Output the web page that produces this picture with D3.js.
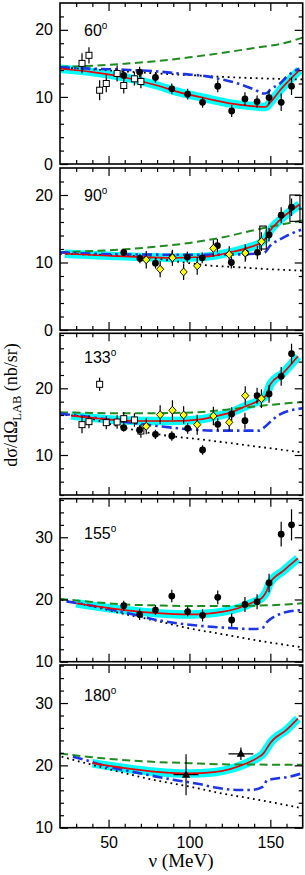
<!DOCTYPE html>
<html><head><meta charset="utf-8">
<script src="https://cdn.jsdelivr.net/npm/d3@7/dist/d3.min.js"></script>
<style>body{margin:0;background:#fff}svg{display:block}</style>
</head><body><svg id="c" width="305" height="875"></svg>
<script>
// ---------- axes / labels ----------
const xDomain = [20, 170];
const xTickLabels = [50, 100, 150];
const xMinorTicks = [30, 40, 60, 70, 80, 90, 110, 120, 130, 140, 160];
const angleLabels = ["60", "90", "133", "155", "180"];
const yDomains = [[0, 24], [0, 24], [4, 28.25], [10, 36.2], [10, 36.1]];
const yTickLabels = [[0, 10, 20], [0, 10, 20], [10, 20], [10, 20, 30], [10, 20, 30]];
const xAxisTitle = "ν (MeV)";

// ---------- Panel 1 : 60° ----------
const p1Squares = [[33.6,15.0,1.5],[37.9,16.2,1.2],[44.5,11.0,1.5],[48.6,12.0,1.3],[55.3,13.5,1.2],[59.4,11.7,1.2],[66.0,12.7,1.0],[70.0,12.3,1.0]];
const p1Circles = [[59.4,13.2,0.8],[69.2,13.7,0.8],[79.0,12.9,0.8],[89.1,11.2,0.8],[98.9,10.4,0.8],[108.1,9.2,0.8],[117.5,11.6,0.9],[126.1,7.9,0.9],[134.3,9.7,1.0],[141.8,9.3,0.9],[149.2,9.9,1.0],[156.7,9.2,1.3],[163.1,11.6,1.3]];
const p1Green  = [[20,14.5],[40,14.65],[60,14.95],[80,15.35],[100,15.9],[120,16.55],[140,17.3],[160,18.1],[170,18.85]];
const p1Blue   = [[20,14.4],[40,14.2],[60,14.05],[80,13.8],[97,13.4],[110,13.1],[120,12.6],[130,12.0],[140,11.1],[146,10.5],[148,10.6],[150,11.1],[156,12.0],[160,13.0],[168,14.2]];
const p1Dotted = [[20,14.4],[40,14.1],[60,13.8],[80,13.5],[100,13.25],[120,13.0],[140,12.8],[170,12.6]];
const p1Red    = [[20.5,14.2],[40,13.7],[60,12.9],[80,11.7],[95,10.6],[110,9.8],[126,9.0],[140,8.6],[147,8.5],[150,9.2],[156,11.0],[168,14.0]];

// ---------- Panel 2 : 90° ----------
const p2Circles = [[59.4,11.5,0.5],[69.4,10.6,0.7],[79.0,9.9,0.8],[89.3,10.8,0.9],[98.7,10.8,0.8],[107.9,10.7,0.8],[117.3,12.5,1.0],[125.9,10.0,0.9],[134.7,11.4,1.0],[142.0,11.5,1.0],[149.2,14.1,1.0],[156.7,17.0,1.2],[163.1,18.2,1.3]];
const p2Diamonds = [[73.3,10.4,1.3],[81.9,9.0,1.2],[89.5,10.7,1.2],[96.4,8.6,1.2],[104.8,9.5,1.3],[114.8,12.1,1.2],[124.6,11.2,1.2],[134.5,11.4,1.3],[144.5,13.1,1.4]];
const p2Boxes = [[143.5,147.5,12.0,15.4],[162.1,168.3,16.1,20.0]];
const p2Green  = [[20,11.5],[40,11.7],[60,11.95],[80,12.35],[100,12.9],[120,13.7],[140,14.8],[150,15.3],[170,16.2]];
const p2Blue   = [[20,11.5],[40,11.3],[60,11.2],[100,11.15],[130,11.2],[146,11.4],[150,12.5],[158,13.7],[169,14.85]];
const p2Dotted = [[20,11.3],[50,11.1],[70,10.9],[85,10.4],[100,9.9],[110,9.6],[130,9.3],[150,9.0],[170,8.8]];
const p2Red    = [[23,11.3],[50,11.0],[70,10.8],[90,10.7],[110,10.85],[125,11.5],[135,12.1],[145,13.1],[147.5,13.7],[149.5,14.6],[156,16.3],[168,18.6]];

// ---------- Panel 3 : 133° ----------
const p3Squares = [[33.6,14.55,1.3],[37.9,15.0,1.0],[44.5,20.6,1.0],[48.6,14.85,1.0],[55.3,14.95,1.0],[59.4,15.45,1.0],[66.0,15.25,1.0],[70.0,13.6,1.0]];
const p3Circles = [[59.4,14.1,0.6],[69.2,13.75,0.7],[79.0,13.1,0.7],[89.1,12.85,0.7],[98.9,14.0,0.8],[108.1,10.75,0.7],[117.5,14.6,0.9],[126.1,16.15,1.0],[134.3,15.15,1.2],[141.8,18.9,1.2],[149.2,19.15,1.3],[156.7,21.8,1.4],[163.1,25.2,1.5]];
const p3Diamonds = [[73.3,14.3,1.2],[81.9,16.05,1.4],[89.5,16.7,1.5],[96.4,16.0,1.3],[104.8,14.55,1.5],[114.8,15.85,1.4],[124.6,14.9,1.3],[134.5,18.9,1.4],[144.5,18.45,1.4]];
const p3Green  = [[20,16.4],[60,16.25],[90,16.3],[110,16.5],[125,16.85],[143,17.35],[170,17.95]];
const p3Blue   = [[20,16.2],[35,15.8],[50,15.3],[65,14.8],[80,14.35],[100,13.85],[115,13.65],[143,13.65],[146,14.1],[151,15.2],[156,16.1],[170,17.0]];
const p3Dotted = [[20,16.05],[37,15.6],[50,14.7],[66,13.75],[82,13.05],[110,12.25],[139,11.35],[169,10.4]];
const p3Red    = [[27,15.9],[49,15.35],[70,15.1],[90,15.1],[107,15.35],[115,15.75],[127,16.5],[135,17.35],[143.5,18.25],[147.5,19.0],[150,20.6],[158,22.3],[167,24.8]];

// ---------- Panel 4 : 155° ----------
const p4Circles = [[59.4,19.0,0.8],[69.2,17.6,0.9],[79.0,18.3,0.8],[89.1,20.55,1.0],[98.9,18.05,0.8],[108.1,17.45,1.0],[117.5,20.35,1.1],[126.1,16.7,1.1],[134.3,19.2,1.2],[141.8,19.65,1.2],[149.2,22.65,1.5],[156.7,30.5,2.0],[163.1,32.0,2.5]];
const p4Green  = [[20,20.1],[40,19.6],[60,19.2],[80,19.05],[100,18.95],[120,18.95],[140,19.0],[160,19.2],[170,19.4]];
const p4Blue   = [[24,19.7],[40,19.0],[60,17.9],[80,16.7],[98,16.0],[120,15.5],[140,15.25],[145,15.4],[148,16.4],[153,17.3],[160,18.0],[170,18.3]];
const p4Dotted = [[21,19.9],[40,18.9],[60,17.65],[80,16.55],[100,15.35],[120,14.45],[140,13.5],[170,12.3]];
const p4Red    = [[30,19.4],[45,18.8],[60,18.3],[80,17.8],[100,17.6],[110,17.7],[120,18.0],[130,18.6],[139,19.5],[145,20.3],[147.6,21.3],[149.6,22.6],[158,24.6],[167,26.6]];

// ---------- Panel 5 : 180° ----------
const p5Triangles = [[97.9,18.5,3.3,7.7],[131.8,21.85,1.0,7.7]];
const p5Green  = [[20,21.9],[50,21.05],[75,20.6],[100,20.35],[127,20.15],[170,20.1]];
const p5Blue   = [[28,21.4],[35,20.9],[51,19.7],[64,19.0],[90,17.7],[106,17.0],[115,16.5],[131,16.05],[138,16.05],[145.5,16.6],[148,17.6],[162,18.2],[170,18.75]];
const p5Dotted = [[21,21.4],[50,19.4],[80,17.55],[100,16.6],[120,15.5],[140,14.6],[170,13.1]];
const p5Red    = [[40,20.35],[60,19.55],[80,18.95],[100,18.7],[115,18.9],[125,19.4],[135,20.3],[142,21.2],[146,22.0],[148,22.8],[150,23.6],[160,25.7],[167,27.5]];

// ---------- table built from the arrays ----------
const panels = [
  {green:p1Green, blue:p1Blue, dotted:p1Dotted, red:p1Red, squares:p1Squares, circles:p1Circles, diamonds:[], boxes:[], triangles:[]},
  {green:p2Green, blue:p2Blue, dotted:p2Dotted, red:p2Red, squares:[], circles:p2Circles, diamonds:p2Diamonds, boxes:p2Boxes, triangles:[]},
  {green:p3Green, blue:p3Blue, dotted:p3Dotted, red:p3Red, squares:p3Squares, circles:p3Circles, diamonds:p3Diamonds, boxes:[], triangles:[]},
  {green:p4Green, blue:p4Blue, dotted:p4Dotted, red:p4Red, squares:[], circles:p4Circles, diamonds:[], boxes:[], triangles:[]},
  {green:p5Green, blue:p5Blue, dotted:p5Dotted, red:p5Red, squares:[], circles:[], diamonds:[], boxes:[], triangles:p5Triangles}
];

// ---------- layout ----------
const svg = d3.select("#c");
const X0 = 60, X1 = 302.7;
const tops = [3, 168, 333.3, 498.7, 665];
const bots = [164, 330, 495, 661.7, 827.7];
const labelY = [35.7, 200.7, 362.7, 539, 700.7];
const x = d3.scaleLinear().domain(xDomain).range([X0, X1]);
const sans = "'Liberation Sans', Arial, Helvetica, sans-serif";
const serif = "'Liberation Serif', 'Times New Roman', Times, serif";

panels.forEach((p, i) => {
  const y = d3.scaleLinear().domain(yDomains[i]).range([bots[i], tops[i]]);
  const g = svg.append("g");
  const cid = "clip" + i;
  svg.append("clipPath").attr("id", cid).append("rect")
    .attr("x", X0).attr("y", tops[i]).attr("width", X1 - X0).attr("height", bots[i] - tops[i]);
  const plot = g.append("g").attr("clip-path", `url(#${cid})`);
  const line = d3.line().x(d => x(d[0])).y(d => y(d[1])).curve(d3.curveMonotoneX);

  plot.append("path").datum(p.red).attr("d", line).attr("fill", "none")
    .attr("stroke", "#00ffff").attr("stroke-width", 8.5).attr("stroke-linejoin", "round");
  plot.append("path").datum(p.dotted).attr("d", line).attr("fill", "none")
    .attr("stroke", "#000").attr("stroke-width", 1.8).attr("stroke-dasharray", "1.8,3.8");
  plot.append("path").datum(p.green).attr("d", line).attr("fill", "none")
    .attr("stroke", "#1e8c1e").attr("stroke-width", 2).attr("stroke-dasharray", "8,4.5");
  plot.append("path").datum(p.blue).attr("d", line).attr("fill", "none")
    .attr("stroke", "#1c35e6").attr("stroke-width", 2.6).attr("stroke-dasharray", "10,4,2.5,4");
  plot.append("path").datum(p.red).attr("d", line).attr("fill", "none")
    .attr("stroke", "#f00000").attr("stroke-width", 1.7);

  // boxes
  plot.selectAll(".box").data(p.boxes).enter().append("rect")
    .attr("x", d => x(d[0])).attr("y", d => y(d[3]))
    .attr("width", d => x(d[1]) - x(d[0])).attr("height", d => y(d[2]) - y(d[3]))
    .attr("fill", "none").attr("stroke", "#000").attr("stroke-width", 1.1);

  // error bars
  const allPts = [].concat(p.squares, p.circles, p.diamonds, p.triangles);
  plot.selectAll(".eb").data(allPts).enter().append("line")
    .attr("x1", d => x(d[0])).attr("x2", d => x(d[0]))
    .attr("y1", d => y(d[1] - d[2])).attr("y2", d => y(d[1] + d[2]))
    .attr("stroke", "#000").attr("stroke-width", 1.2);
  plot.selectAll(".ebx").data(p.triangles).enter().append("line")
    .attr("x1", d => x(d[0] - d[3])).attr("x2", d => x(d[0] + d[3]))
    .attr("y1", d => y(d[1])).attr("y2", d => y(d[1]))
    .attr("stroke", "#000").attr("stroke-width", 1.2);

  plot.selectAll(".sq").data(p.squares).enter().append("rect")
    .attr("x", d => x(d[0]) - 3).attr("y", d => y(d[1]) - 3).attr("width", 6).attr("height", 6)
    .attr("fill", "#fff").attr("stroke", "#000").attr("stroke-width", 1);
  plot.selectAll(".ci").data(p.circles).enter().append("circle")
    .attr("cx", d => x(d[0])).attr("cy", d => y(d[1])).attr("r", 3.4).attr("fill", "#000");
  plot.selectAll(".di").data(p.diamonds).enter().append("path")
    .attr("transform", d => `translate(${x(d[0])},${y(d[1])})`)
    .attr("d", "M0,-4L3.6,0L0,4L-3.6,0Z")
    .attr("fill", "#ffff00").attr("stroke", "#000").attr("stroke-width", 0.9);
  plot.selectAll(".tr").data(p.triangles).enter().append("path")
    .attr("transform", d => `translate(${x(d[0])},${y(d[1])})`)
    .attr("d", "M0,-4.5L4.2,3L-4.2,3Z").attr("fill", "#000");

  // ticks
  const tk = (sel) => sel.call(s => s.select(".domain").remove())
    .call(s => s.selectAll("line").attr("stroke", "#000").attr("stroke-width", 1.2));
  g.append("g").attr("transform", `translate(0,${bots[i]})`)
    .call(d3.axisBottom(x).tickValues(xMinorTicks).tickSize(-4).tickFormat("")).call(tk);
  g.append("g").attr("transform", `translate(0,${tops[i]})`)
    .call(d3.axisTop(x).tickValues(xMinorTicks).tickSize(-4).tickFormat("")).call(tk);
  g.append("g").attr("transform", `translate(0,${tops[i]})`)
    .call(d3.axisTop(x).tickValues(xTickLabels).tickSize(-8).tickFormat("")).call(tk);
  const bAx = g.append("g").attr("transform", `translate(0,${bots[i]})`)
    .call(d3.axisBottom(x).tickValues(xTickLabels).tickSize(-8).tickPadding(9)
      .tickFormat(i === panels.length - 1 ? d3.format("d") : "")).call(tk);
  bAx.selectAll("text").attr("font-family", sans).attr("font-size", 16).attr("fill", "#000");

  const yd = yDomains[i];
  const yMinor = d3.range(Math.ceil(yd[0] / 2) * 2, yd[1], 2).filter(v => v % 10 !== 0);
  const yMajor = d3.range(Math.ceil(yd[0] / 10) * 10, yd[1], 10);
  g.append("g").attr("transform", `translate(${X0},0)`)
    .call(d3.axisLeft(y).tickValues(yMinor).tickSize(-4).tickFormat("")).call(tk);
  g.append("g").attr("transform", `translate(${X1},0)`)
    .call(d3.axisRight(y).tickValues(yMinor).tickSize(-4).tickFormat("")).call(tk);
  g.append("g").attr("transform", `translate(${X1},0)`)
    .call(d3.axisRight(y).tickValues(yMajor).tickSize(-8).tickFormat("")).call(tk);
  const lAx = g.append("g").attr("transform", `translate(${X0},0)`)
    .call(d3.axisLeft(y).tickValues(yTickLabels[i]).tickSize(-8).tickPadding(7).tickFormat(d3.format("d"))).call(tk);
  lAx.selectAll("text").attr("font-family", sans).attr("font-size", 16).attr("fill", "#000");

  // frame
  g.append("rect").attr("x", X0).attr("y", tops[i]).attr("width", X1 - X0).attr("height", bots[i] - tops[i])
    .attr("fill", "none").attr("stroke", "#000").attr("stroke-width", 1.6);

  // angle label
  const t = g.append("text").attr("x", 84).attr("y", labelY[i])
    .attr("font-family", sans).attr("font-size", 16).attr("fill", "#000");
  t.append("tspan").text(angleLabels[i]);
  t.append("tspan").attr("font-size", 10).attr("dy", -7).text("o");
});

// axis titles
svg.append("text").attr("x", 181).attr("y", 867).attr("text-anchor", "middle")
  .attr("font-family", serif).attr("font-size", 19).text(xAxisTitle);
const yt = svg.append("text").attr("transform", "translate(17,405) rotate(-90)")
  .attr("text-anchor", "middle").attr("font-family", serif).attr("font-size", 18);
yt.append("tspan").text("dσ/dΩ");
yt.append("tspan").attr("font-size", 12.5).attr("dy", 4).text("LAB");
yt.append("tspan").attr("dy", -4).text(" (nb/sr)");
</script></body></html>
